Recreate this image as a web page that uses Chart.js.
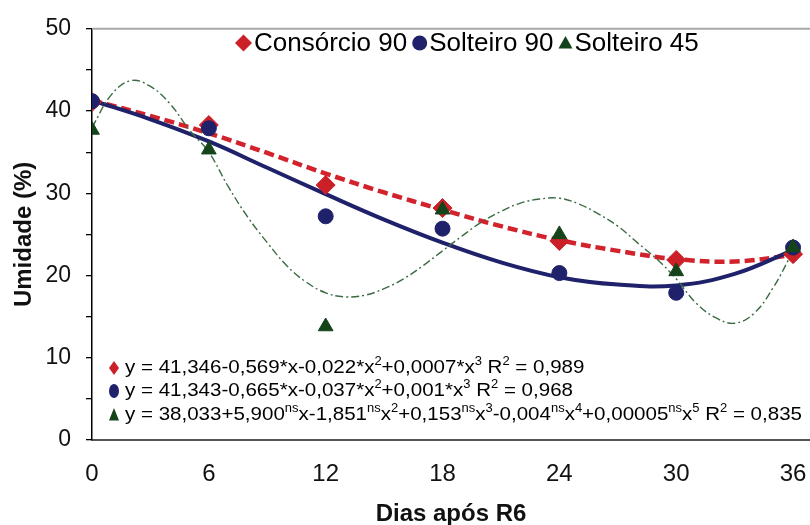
<!DOCTYPE html>
<html>
<head>
<meta charset="utf-8">
<script src="https://cdn.jsdelivr.net/npm/chart.js@4.4.0/dist/chart.umd.min.js"></script>
<style>
	html, body { margin: 0; padding: 0; background: #fff; }
</style>
</head>
<body>
<canvas id="canvas" width="810" height="525"></canvas>
<script>
// dados
var dias = [0, 6, 12, 18, 24, 30, 36];
var consorcio90 = [41.1, 38.3, 31.0, 28.2, 24.2, 21.9, 22.6];
var solteiro90 = [41.2, 37.9, 27.2, 25.7, 20.3, 17.9, 23.4];
var solteiro45 = [37.7, 35.3, 13.8, 28.0, 25.0, 20.5, 23.4];

// linhas de tendencia
var tendX = [0, 3, 6, 9, 12, 15, 18, 21, 24, 27, 30, 33, 36];
var tendConsorcio90 = [41.3, 39.4, 37.3, 34.9, 32.4, 30.1, 28.0, 26.0, 24.3, 23.0, 22.0, 21.7, 22.5];
var tendSolteiro90 = [41.3, 39.0, 36.3, 33.1, 29.9, 26.8, 24.0, 21.6, 19.8, 18.9, 18.8, 20.2, 23.1];
var tendX45 = [0, 1, 2, 3, 4, 5, 6, 7, 8, 9, 10, 11, 12, 13, 14, 15, 16, 17, 18, 19, 20, 21, 22, 23, 24, 25, 26, 27, 28, 29, 30, 31, 32, 33, 34, 35, 36];
var tendSolteiro45 = [38.0, 42.0, 43.7, 43.0, 40.9, 37.7, 35.0, 30.8, 27.1, 24.0, 21.2, 19.2, 17.9, 17.4, 17.6, 18.4, 19.6, 21.2, 23.0, 24.8, 26.5, 27.8, 28.8, 29.3, 29.4, 28.7, 27.5, 26.0, 24.0, 22.0, 19.6, 16.7, 14.9, 14.2, 15.4, 18.6, 23.0];

var xTicks = [0, 6, 12, 18, 24, 30, 36];
var nomes = ["Consórcio 90", "Solteiro 90", "Solteiro 45"];
var equacoes = [
	"y = 41,346-0,569*x-0,022*x^{2}+0,0007*x^{3} R^{2} = 0,989",
	"y = 41,343-0,665*x-0,037*x^{2}+0,001*x^{3} R^{2} = 0,968",
	"y = 38,033+5,900^{ns}x-1,851^{ns}x^{2}+0,153^{ns}x^{3}-0,004^{ns}x^{4}+0,00005^{ns}x^{5} R^{2} = 0,835"
];

var vermelho = "#cc2029";
var azul = "#1f216b";
var verde = "#15441b";
var FONTE = "'Liberation Sans', Arial, sans-serif";

function pares(xs, ys) {
	return xs.map(function(x, i) { return { x: x, y: ys[i] }; });
}

function marcador(c, tipo, x, y, rx, ry, cor) {
	c.fillStyle = cor;
	c.beginPath();
	if (tipo == "diamond") {
		c.moveTo(x, y - ry); c.lineTo(x + rx, y); c.lineTo(x, y + ry); c.lineTo(x - rx, y);
	} else if (tipo == "circle") {
		c.ellipse(x, y, rx, ry, 0, 0, Math.PI * 2);
	} else {
		c.moveTo(x, y - ry); c.lineTo(x + rx, y + ry * 0.8); c.lineTo(x - rx, y + ry * 0.8);
	}
	c.closePath();
	c.fill();
}

// texto com sobrescritos ^{...}
function textoRico(c, str, x, y, size, desenhar) {
	var partes = str.split(/\^\{([^}]*)\}/);
	var cx = 0;
	for (var i = 0; i < partes.length; i++) {
		if (partes[i] === "") continue;
		if (i % 2 == 0) {
			c.font = size + "px " + FONTE;
			if (desenhar) c.fillText(partes[i], x + cx, y);
		} else {
			c.font = Math.round(size * 0.62) + "px " + FONTE;
			if (desenhar) c.fillText(partes[i], x + cx, y - size * 0.32);
		}
		cx += c.measureText(partes[i]).width;
	}
	return cx;
}

var extras = {
	id: "extras",
	afterDraw: function(chart) {
		var c = chart.ctx;
		var a = chart.chartArea;
		c.save();
		// borda superior
		c.strokeStyle = "#a8a8a8";
		c.lineWidth = 2;
		c.beginPath();
		c.moveTo(a.left, a.top);
		c.lineTo(a.right, a.top);
		c.stroke();

		// legenda
		c.textBaseline = "middle";
		c.textAlign = "left";
		c.fillStyle = "#000";
		c.font = "26px " + FONTE;
		var tipos = ["diamond", "circle", "triangle"];
		var cores = [vermelho, azul, verde];
		var tam = [[8.5, 8.5], [7.5, 7.5], [7, 7]];
		var lx = 235, ly = 43;
		for (var i = 0; i < nomes.length; i++) {
			marcador(c, tipos[i], lx + tam[i][0], ly, tam[i][0], tam[i][1], cores[i]);
			lx += tam[i][0] * 2 + 2;
			c.fillStyle = "#000";
			c.font = "26px " + FONTE;
			c.fillText(nomes[i], lx, ly + 1);
			lx += c.measureText(nomes[i]).width + 5;
		}

		// equacoes
		var tamEq = 19;
		var larg = textoRico(c, equacoes[2], 0, 0, tamEq, false);
		var sx = 677 / larg;
		var ys = [368, 391, 415];
		for (var j = 0; j < equacoes.length; j++) {
			marcador(c, tipos[j], 114, ys[j], 5, 7, cores[j]);
			c.save();
			c.translate(125, ys[j]);
			c.scale(sx, 1);
			c.fillStyle = "#000";
			textoRico(c, equacoes[j], 0, 0, tamEq, true);
			c.restore();
		}
		c.restore();
	}
};

var ctx = document.getElementById("canvas").getContext("2d");
var chart = new Chart(ctx, {
	type: "scatter",
	data: {
		datasets: [
			{
				label: nomes[2], data: pares(dias, solteiro45), order: 0,
				pointStyle: "triangle", pointRadius: 8.5, pointHoverRadius: 8.5,
				backgroundColor: verde, borderColor: verde, borderWidth: 1
			},
			{
				label: nomes[1], data: pares(dias, solteiro90), order: 1,
				pointStyle: "circle", pointRadius: 7.5, pointHoverRadius: 7.5,
				backgroundColor: azul, borderColor: azul, borderWidth: 1
			},
			{
				label: nomes[0], data: pares(dias, consorcio90), order: 2,
				pointStyle: "rectRot", pointRadius: 9.5, pointHoverRadius: 9.5,
				backgroundColor: vermelho, borderColor: vermelho, borderWidth: 1
			},
			{
				label: "tend 45", data: pares(tendX45, tendSolteiro45), order: 3,
				showLine: true, pointRadius: 0, tension: 0.4,
				borderColor: "#3b6b42", borderWidth: 1.4, borderDash: [8, 3, 2, 3]
			},
			{
				label: "tend S90", data: pares(tendX, tendSolteiro90), order: 4,
				showLine: true, pointRadius: 0, tension: 0.4,
				borderColor: azul, borderWidth: 4
			},
			{
				label: "tend C90", data: pares(tendX, tendConsorcio90), order: 5,
				showLine: true, pointRadius: 0, tension: 0.4,
				borderColor: "#d2222b", borderWidth: 4.5, borderDash: [10, 5]
			}
		]
	},
	options: {
		responsive: false,
		animation: false,
		layout: { autoPadding: false, padding: { top: 24, right: 0, bottom: 0, left: 0 } },
		plugins: {
			legend: { display: false },
			tooltip: { enabled: false }
		},
		scales: {
			x: {
				type: "linear",
				min: 0,
				max: 36.87,
				afterBuildTicks: function(s) { s.ticks = xTicks.map(function(v) { return { value: v }; }); },
				afterFit: function(s) { s.height = 85; s.paddingLeft = 0; s.paddingRight = 0; },
				grid: { display: false, drawTicks: false },
				border: { color: "#555", width: 2 },
				ticks: {
					autoSkip: false, maxRotation: 0, padding: 20,
					color: "#111", font: { family: FONTE, size: 24 }
				},
				title: {
					display: true, text: "Dias após R6", color: "#111",
					font: { family: FONTE, size: 24, weight: "bold", lineHeight: 0.85 },
					padding: { top: 0, bottom: 0 }
				}
			},
			y: {
				min: 0,
				max: 50,
				afterFit: function(s) { s.width = 92; },
				grid: { drawOnChartArea: false, drawTicks: true, tickLength: 6, color: "#000", lineWidth: 1.3 },
				border: { color: "#000", width: 1.5 },
				ticks: {
					stepSize: 5, autoSkip: false, padding: 15,
					color: "#111", font: { family: FONTE, size: 23 },
					callback: function(v) { return v % 10 === 0 ? v : ""; }
				},
				title: {
					display: true, text: "Umidade (%)", color: "#111",
					font: { family: FONTE, size: 24, weight: "bold" },
					padding: { top: 10, bottom: 0 }
				}
			}
		}
	},
	plugins: [extras]
});
</script>
</body>
</html>
